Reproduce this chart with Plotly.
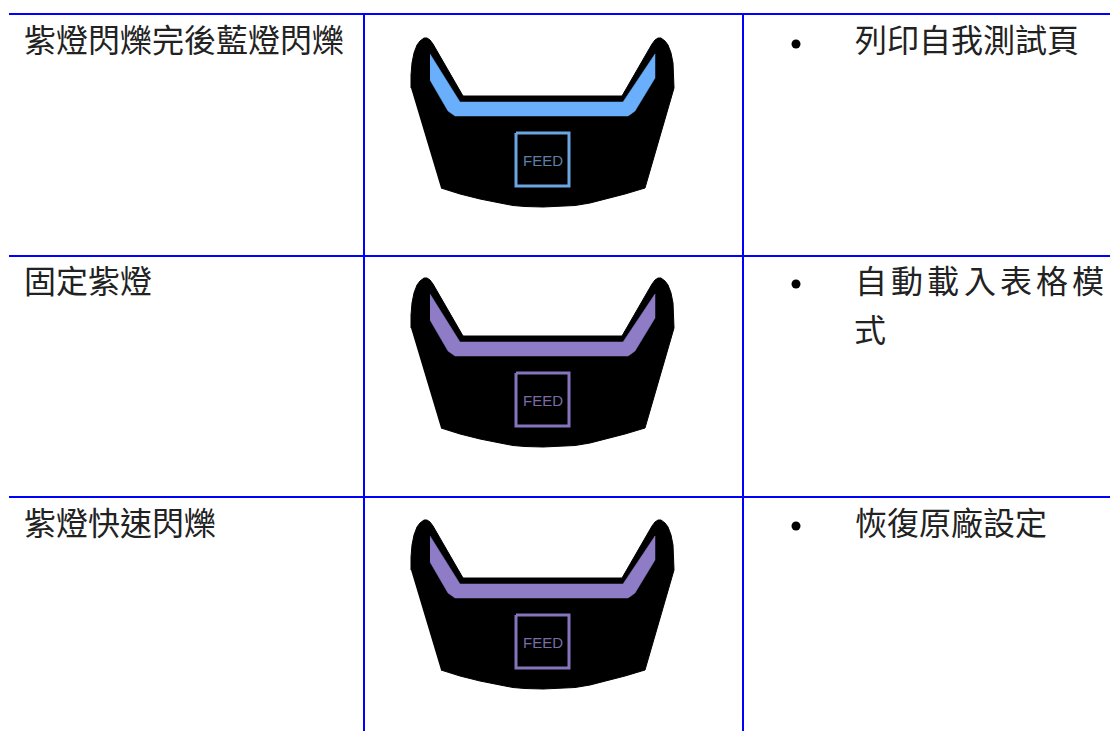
import plotly.graph_objects as go

# Table content
left_labels = ["紫燈閃爍完後藍燈閃爍", "固定紫燈", "紫燈快速閃爍"]
right_labels = ["列印自我測試頁", "自動載入表格模", "恢復原廠設定"]
right_wrap = "式"
button_label = "FEED"

# Row geometry (page pixels)
row_lines = [14, 256, 497]
col_lines = [364, 743]
left_y = [38, 279, 521]
wrap_y = 328
bullet_y = [44, 284, 526]
icon_dy = [0, 240, 482]
band_cols = ["#6AAFFB", "#8E7CC6", "#8E7CC6"]
box_cols = ["#6AA6E2", "#8675BD", "#8675BD"]
feed_cols = ["#5E7FA8", "#7A6CA6", "#7A6CA6"]

# Icon outline, in pixels relative to (400, 25)
outline_x = [11, 11, 12, 14, 17, 20, 24, 27, 30, 33, 63, 222, 252, 255, 258, 261, 265, 268, 271, 273, 274,
             245, 225, 205, 190, 175, 160, 143, 125, 113, 100, 80, 60, 41]
outline_y = [63, 50, 38, 28, 20, 16, 13, 13, 15, 19, 71, 71, 19, 15, 13, 13, 16, 20, 28, 38, 63,
             163, 169, 174.5, 178, 180.5, 181.5, 182, 181.5, 180.5, 178, 174, 169, 163]
band_x = [30, 60, 223, 255, 255, 235, 231, 228, 55, 52, 48, 30]
band_y = [29, 77, 77, 29, 53, 86, 89, 91, 91, 89, 86, 55]
box_x = [116, 169, 169, 116, 116]
box_y = [108, 108, 161, 161, 108]
ICON_X0, ICON_Y0 = 400, 25

fig = go.Figure()
for i, dy in enumerate(icon_dy):
    fig.add_trace(go.Scatter(
        x=[v + ICON_X0 for v in outline_x], y=[v + ICON_Y0 + dy for v in outline_y],
        mode="lines", fill="toself", fillcolor="#000000",
        line=dict(color="#000000", width=1), hoverinfo="skip"))
    fig.add_trace(go.Scatter(
        x=[v + ICON_X0 for v in band_x], y=[v + ICON_Y0 + dy for v in band_y],
        mode="lines", fill="toself", fillcolor=band_cols[i],
        line=dict(color=band_cols[i], width=0.5), hoverinfo="skip"))
    fig.add_trace(go.Scatter(
        x=[v + ICON_X0 for v in box_x], y=[v + ICON_Y0 + dy for v in box_y],
        mode="lines", line=dict(color=box_cols[i], width=3), hoverinfo="skip"))
    fig.add_annotation(x=ICON_X0 + 143, y=ICON_Y0 + 135 + dy, text=button_label, showarrow=False,
                       xanchor="center", yanchor="middle",
                       font=dict(family="Liberation Sans", size=15, color=feed_cols[i]))

for y in row_lines:
    fig.add_shape(type="line", x0=9, x1=1110, y0=y, y1=y, line=dict(color="#0000FF", width=2))
for x in col_lines:
    fig.add_shape(type="line", x0=x, x1=x, y0=14, y1=731, line=dict(color="#0000FF", width=2))

CJK = "Noto Sans CJK TC"
TXT = dict(family=CJK, size=32, color="#222222")
for label, y in zip(left_labels, left_y):
    fig.add_annotation(x=22, y=y, text=label, showarrow=False, xanchor="left", yanchor="middle", font=TXT)

fig.add_trace(go.Scatter(x=[796] * 3, y=bullet_y, mode="markers",
                         marker=dict(color="#000000", size=9), hoverinfo="skip"))

# Right column; the second row is justified, so its characters are spaced out individually
fig.add_annotation(x=853, y=left_y[0], text=right_labels[0], showarrow=False, xanchor="left", yanchor="middle", font=TXT)
for k, ch in enumerate(right_labels[1]):
    fig.add_annotation(x=853 + 36.2 * k, y=left_y[1], text=ch, showarrow=False, xanchor="left", yanchor="middle", font=TXT)
fig.add_annotation(x=852, y=wrap_y, text=right_wrap, showarrow=False, xanchor="left", yanchor="middle", font=TXT)
fig.add_annotation(x=853, y=left_y[2], text=right_labels[2], showarrow=False, xanchor="left", yanchor="middle", font=TXT)

fig.update_layout(width=1110, height=731, margin=dict(l=0, r=0, t=0, b=0), showlegend=False,
                  paper_bgcolor="#FFFFFF", plot_bgcolor="#FFFFFF",
                  xaxis=dict(range=[0, 1110], visible=False, fixedrange=True),
                  yaxis=dict(range=[731, 0], visible=False, fixedrange=True))
fig.write_html("out.html", config={"displayModeBar": False},
               default_width="1110px", default_height="731px",
               post_script="document.body.style.margin='0';document.documentElement.style.overflow='hidden';")
